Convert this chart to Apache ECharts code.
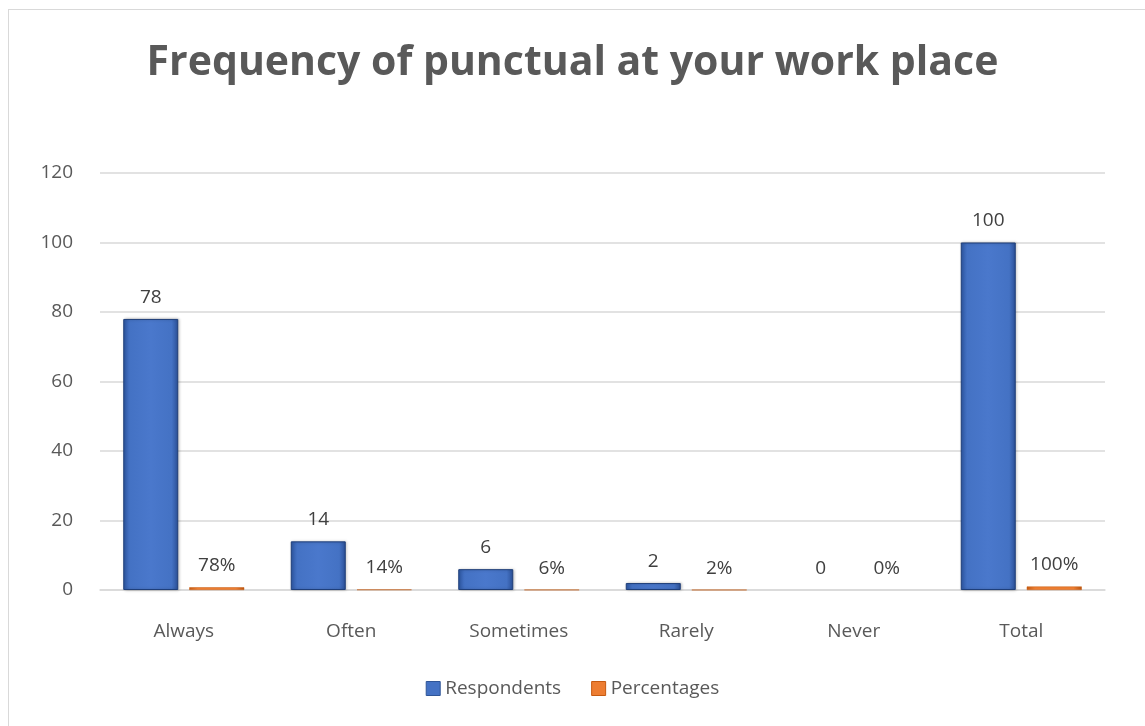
<!DOCTYPE html>
<html>
<head>
<meta charset="utf-8">
<script src="https://cdn.jsdelivr.net/npm/echarts@6/dist/echarts.min.js"></script>
<style>
  html, body { margin: 0; padding: 0; background: #fff; }
  #frame { position: absolute; left: 8px; top: 9px; width: 1160px; height: 740px;
           border-left: 1px solid #d9d9d9; border-top: 1px solid #d9d9d9; }
  #chart { position: absolute; left: 0; top: 0; width: 1145px; height: 726px; }
</style>
</head>
<body>
<div id="frame"></div>
<div id="chart"></div>
<script>
const categories = ['Always', 'Often', 'Sometimes', 'Rarely', 'Never', 'Total'];
const respondents = [78, 14, 6, 2, 0, 100];
const percentages = [0.78, 0.14, 0.06, 0.02, 0, 1.00];
const yTicks = [0, 20, 40, 60, 80, 100, 120];

const blueFill = new echarts.graphic.LinearGradient(0, 0, 1, 0, [
  { offset: 0, color: '#2f5aa8' },
  { offset: 0.12, color: '#4472c4' },
  { offset: 0.5, color: '#4a78cc' },
  { offset: 0.88, color: '#4472c4' },
  { offset: 1, color: '#2a4f96' }
]);
const orangeFill = new echarts.graphic.LinearGradient(0, 0, 1, 0, [
  { offset: 0, color: '#c55a11' },
  { offset: 0.15, color: '#ed7d31' },
  { offset: 0.85, color: '#ed7d31' },
  { offset: 1, color: '#b85410' }
]);

// zero-height bars draw nothing, not even their outline
const withoutZeroOutline = arr =>
  arr.map(v => v === 0 ? { value: v, itemStyle: { borderWidth: 0, shadowBlur: 0 } } : v);

const chart = echarts.init(document.getElementById('chart'), null, { renderer: 'canvas' });
chart.setOption({
  animation: false,
  backgroundColor: 'transparent',
  textStyle: { fontFamily: '"Open Sans", "Noto Sans", sans-serif' },
  title: {
    text: 'Frequency of punctual at your work place',
    left: 'center',
    top: 38,
    textStyle: { fontSize: 41, fontWeight: 'bold', color: '#595959',
                 fontFamily: '"Open Sans", "Noto Sans", sans-serif' }
  },
  legend: {
    bottom: 23,
    left: 'center',
    itemWidth: 14,
    itemHeight: 14,
    itemGap: 30,
    icon: 'rect',
    textStyle: { fontSize: 19, color: '#595959' },
    data: [
      { name: 'Respondents', itemStyle: { color: '#4472c4', borderColor: '#2f5597', borderWidth: 1 } },
      { name: 'Percentages', itemStyle: { color: '#ed7d31', borderColor: '#c55a11', borderWidth: 1 } }
    ]
  },
  grid: { left: 100, right: 40, top: 173, bottom: 136 },
  xAxis: {
    type: 'category',
    data: categories,
    axisLine: { lineStyle: { color: '#d9d9d9', width: 1.5 } },
    axisTick: { show: false },
    axisLabel: { fontSize: 19, color: '#595959', margin: 32 }
  },
  yAxis: {
    type: 'value',
    min: 0,
    max: 120,
    interval: 20,
    axisLine: { show: false },
    axisTick: { show: false },
    splitLine: { lineStyle: { color: '#d9d9d9', width: 1.5 } },
    axisLabel: {
      fontSize: 19, color: '#595959', margin: 27,
      formatter: v => yTicks.includes(v) ? String(v) : ''
    }
  },
  series: [
    {
      name: 'Respondents',
      type: 'bar',
      data: withoutZeroOutline(respondents),
      barWidth: 55,
      barGap: '20%',
      itemStyle: { color: blueFill, borderColor: '#1f3f7a', borderWidth: 1,
                   shadowColor: 'rgba(0,0,0,0.25)', shadowBlur: 3, shadowOffsetX: 1 },
      label: { show: true, position: 'top', distance: 12, fontSize: 19, color: '#404040' }
    },
    {
      name: 'Percentages',
      type: 'bar',
      data: withoutZeroOutline(percentages),
      barWidth: 55,
      itemStyle: { color: orangeFill, borderColor: '#c55a11', borderWidth: 0.5 },
      label: {
        show: true, position: 'top', distance: 12, fontSize: 19, color: '#404040',
        formatter: p => Math.round(p.value * 100) + '%'
      }
    }
  ]
});
</script>
</body>
</html>
